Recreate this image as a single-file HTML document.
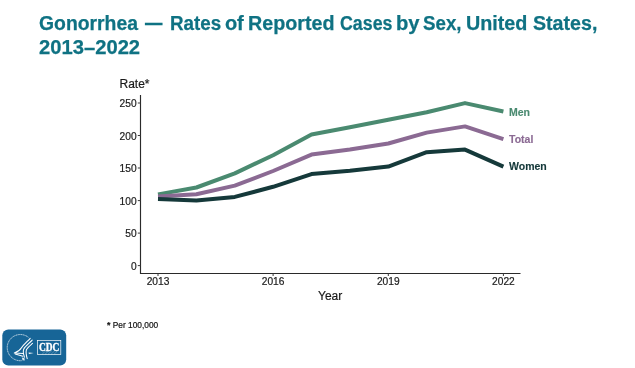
<!DOCTYPE html>
<html><head><meta charset="utf-8">
<style>
html,body{margin:0;padding:0;background:#fff;width:635px;height:368px;overflow:hidden;}
body{position:relative;font-family:"Liberation Sans",sans-serif;}
.wrap{position:absolute;left:0;top:0;width:635px;height:368px;will-change:transform;}
.title span{position:absolute;color:#0f7283;font-weight:bold;font-size:20px;line-height:30px;white-space:nowrap;transform-origin:0 0;-webkit-text-stroke:0.25px #0f7283;}
svg{position:absolute;left:0;top:0;}
.foot{position:absolute;left:107px;top:319.6px;font-size:8.5px;color:#111;white-space:nowrap;transform:scaleX(0.98);transform-origin:0 0;-webkit-text-stroke:0.2px #111;}
.foot b{font-size:9px;}
</style></head><body>
<div class="wrap">
<div class="title">
<span style="left:38.9px;top:8px;transform:scaleX(0.968)">Gonorrhea</span>
<span style="left:145.2px;top:7px;transform:scaleX(0.87)">—</span>
<span style="left:169.7px;top:8px;transform:scaleX(0.940)">Rates</span>
<span style="left:224.9px;top:8px;transform:scaleX(1.0)">of</span>
<span style="left:247.9px;top:8px;transform:scaleX(0.985)">Reported</span>
<span style="left:340.3px;top:8px;transform:scaleX(0.890)">Cases</span>
<span style="left:396.4px;top:8px;transform:scaleX(1.009)">by</span>
<span style="left:423.1px;top:8px;transform:scaleX(0.936)">Sex,</span>
<span style="left:466.4px;top:8px;transform:scaleX(0.987)">United</span>
<span style="left:532.8px;top:8px;transform:scaleX(0.981)">States,</span>
<span style="left:39px;top:31.6px;transform:scaleX(1.01)">2013–2022</span>
</div>
<svg width="635" height="368" viewBox="0 0 635 368" font-family="Liberation Sans, sans-serif">
  <!-- axes -->
  <g stroke="#2a2a2a" stroke-width="1.15" fill="none">
    <path d="M140.5 95 V273.5 H520.5"/>
  </g>
  <g stroke="#3a3a3a" stroke-width="1" fill="none">
    <path d="M137.8 103 H140.5 M137.8 135.5 H140.5 M137.8 168 H140.5 M137.8 200.6 H140.5 M137.8 233.1 H140.5 M137.8 265.6 H140.5"/>
    <path d="M158 273.5 V276 M273.1 273.5 V276 M388.3 273.5 V276 M503.4 273.5 V276"/>
  </g>
  <g font-size="10.2" fill="#1a1a1a" stroke="#1a1a1a" stroke-width="0.2" text-anchor="end">
    <text x="136.6" y="107">250</text>
    <text x="136.6" y="139.5">200</text>
    <text x="136.6" y="172">150</text>
    <text x="136.6" y="204.6">100</text>
    <text x="136.6" y="237.1">50</text>
    <text x="136.6" y="269.6">0</text>
  </g>
  <g font-size="10.2" fill="#1a1a1a" stroke="#1a1a1a" stroke-width="0.2" text-anchor="middle">
    <text x="158" y="285.4">2013</text>
    <text x="273.1" y="285.4">2016</text>
    <text x="388.3" y="285.4">2019</text>
    <text x="503.4" y="285.4">2022</text>
  </g>
  <text x="119.5" y="87.5" font-size="12" fill="#1a1a1a" stroke="#1a1a1a" stroke-width="0.2">Rate*</text>
  <text x="318" y="300.3" font-size="12" fill="#1a1a1a" stroke="#1a1a1a" stroke-width="0.2">Year</text>
  <g fill="none" stroke-width="4" stroke-linejoin="round">
    <polyline stroke="#4a8a70" points="158.0,194.4 196.4,187.5 234.8,173.4 273.1,155.2 311.5,134.5 349.9,127.2 388.3,119.7 426.7,112.2 465.0,103.1 503.4,111.5"/>
    <polyline stroke="#8b6a93" points="158.0,196.6 196.4,194.2 234.8,185.6 273.1,171.0 311.5,154.6 349.9,149.6 388.3,143.5 426.7,132.6 465.0,126.4 503.4,139.2"/>
    <polyline stroke="#15393a" points="158.0,199.0 196.4,200.6 234.8,196.9 273.1,186.8 311.5,174.1 349.9,170.8 388.3,166.6 426.7,152.2 465.0,149.6 503.4,166.6"/>
  </g>
  <g font-size="10.5" font-weight="bold" stroke-width="0.15">
    <text x="509" y="115.6" fill="#4a8a70" stroke="#4a8a70">Men</text>
    <text x="509" y="142.8" fill="#8b6a93" stroke="#8b6a93">Total</text>
    <text x="509" y="170" fill="#15393a" stroke="#15393a">Women</text>
  </g>
  <!-- CDC logo -->
  <rect x="2.3" y="329.4" width="63.9" height="36.1" rx="6" fill="#176597"/>
  <path d="M28.4 337.3 A13.1 13.1 0 1 0 22.1 360.6" fill="none" stroke="#fff" stroke-width="0.9" stroke-dasharray="1.2 0.5" opacity="0.85"/>
  <g fill="none" stroke="#fff" stroke-width="1.05" stroke-linecap="round" stroke-linejoin="round">
    <path d="M30.2 338.3 C27.5 341.3, 23.5 344.8, 21.6 347.6 C20.4 349.6, 19.6 351.2, 14.3 353.1 L23.2 353.6"/>
    <path d="M15.2 353.9 C18 354.6, 20.5 355.3, 22.8 356.2"/>
    <path d="M32.2 340.1 C29.5 343, 25.6 346.2, 24 348.6 C22.9 350.6, 23 353.2, 24.4 357.2"/>
    <path d="M32.5 343.4 C30.2 345.4, 27.6 347.4, 26.5 349.6 C25.7 351.7, 26.1 354.8, 27.2 358.6"/>
  </g>
  <path d="M28.6 352.4 L33.7 352.9 L28.9 354 Z" fill="#fff"/>
  <path d="M21.8 357.6 L24.4 357.9 L24.8 360.4 L22.6 360.2 Z" fill="#fff" opacity="0.85"/>
  <rect x="37.4" y="340.5" width="23.4" height="14" fill="none" stroke="#fff" stroke-width="0.7"/>
  <g stroke="#fff" stroke-width="0.35" opacity="0.7">
    <path d="M42 354.3 L46 350.5 M45 354.3 L49 350.5 M48 354.3 L52 350.5 M51 354.3 L55 350.5 M54 354.3 L58 350.5"/>
  </g>
  <text x="49.1" y="350.6" font-family="Liberation Serif, serif" font-weight="bold" font-size="11.5" fill="#fff" stroke="#fff" stroke-width="0.35" text-anchor="middle" transform="translate(49.1 0) scale(0.82 1) translate(-49.1 0)">CDC</text>
</svg>
<div class="foot"><b>*</b> Per 100,000</div>
</div>
</body></html>
